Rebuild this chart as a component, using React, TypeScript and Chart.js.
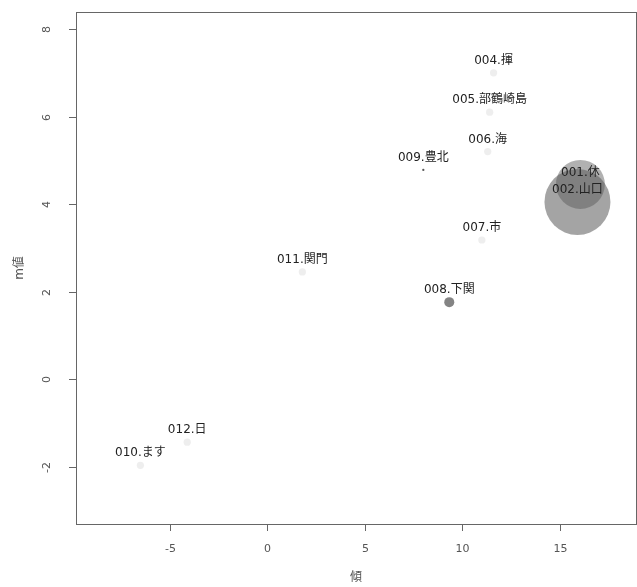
import React, { useEffect, useRef } from "react";
import { Chart, registerables } from "chart.js";

Chart.register(...registerables);

// Area labels, coordinates and weights (bubble size)
const names = [
  "001.休",
  "002.山口",
  "004.揮",
  "005.部鶴崎島",
  "006.海",
  "007.市",
  "008.下関",
  "009.豊北",
  "010.ます",
  "011.関門",
  "012.日",
];
const xValues = [16.05, 15.9, 11.6, 11.4, 11.3, 11.0, 9.33, 8.0, -6.5, 1.8, -4.1];
const yValues = [4.45, 4.05, 7.0, 6.1, 5.2, 3.18, 1.76, 4.78, -1.97, 2.45, -1.44];
const weights = [55, 100, 1.2, 1.2, 1.2, 1.2, 2.3, 0.12, 1.2, 1.2, 1.2];

const xTicks = [-5, 0, 5, 10, 15];
const yTicks = [-2, 0, 2, 4, 6, 8];
const xTitle = "傾";
const yTitle = "m値";

const pointColors = [
  "rgba(60,60,60,0.4)",
  "rgba(90,90,90,0.55)",
  "rgba(200,200,200,0.3)",
  "rgba(200,200,200,0.3)",
  "rgba(200,200,200,0.3)",
  "rgba(200,200,200,0.3)",
  "rgba(110,110,110,0.85)",
  "rgba(70,70,70,0.9)",
  "rgba(200,200,200,0.3)",
  "rgba(200,200,200,0.3)",
  "rgba(200,200,200,0.3)",
];

const FONT = "'DejaVu Sans', 'Noto Sans CJK JP', sans-serif";

const rAxesPlugin = {
  id: "rAxes",
  afterDraw(chart: any) {
    const { ctx, chartArea, scales } = chart;
    const xs = scales.x;
    const ys = scales.y;
    ctx.save();
    ctx.strokeStyle = "#666";
    ctx.lineWidth = 1;
    ctx.strokeRect(
      Math.round(chartArea.left) + 0.5,
      Math.round(chartArea.top) + 0.5,
      Math.round(chartArea.right - chartArea.left),
      Math.round(chartArea.bottom - chartArea.top)
    );
    ctx.fillStyle = "#555";
    ctx.font = "11px " + FONT;
    // x axis ticks
    ctx.textAlign = "center";
    ctx.textBaseline = "middle";
    for (const t of xTicks) {
      const px = Math.round(xs.getPixelForValue(t)) + 0.5;
      ctx.beginPath();
      ctx.moveTo(px, chartArea.bottom);
      ctx.lineTo(px, chartArea.bottom + 7);
      ctx.stroke();
      ctx.fillText(String(t), px, chartArea.bottom + 25);
    }
    // y axis ticks (rotated labels)
    for (const t of yTicks) {
      const py = Math.round(ys.getPixelForValue(t)) + 0.5;
      ctx.beginPath();
      ctx.moveTo(chartArea.left, py);
      ctx.lineTo(chartArea.left - 7, py);
      ctx.stroke();
      ctx.save();
      ctx.translate(chartArea.left - 29, py);
      ctx.rotate(-Math.PI / 2);
      ctx.fillText(String(t), 0, 0);
      ctx.restore();
    }
    // axis titles
    ctx.font = "12px " + FONT;
    ctx.fillText(xTitle, (chartArea.left + chartArea.right) / 2, chartArea.bottom + 54);
    ctx.save();
    ctx.translate(chartArea.left - 56, (chartArea.top + chartArea.bottom) / 2);
    ctx.rotate(-Math.PI / 2);
    ctx.fillText(yTitle, 0, 0);
    ctx.restore();

    // point labels
    ctx.fillStyle = "#222";
    ctx.font = "12px " + FONT;
    const meta = chart.getDatasetMeta(0);
    meta.data.forEach((el: any, i: number) => {
      ctx.fillText(names[i], el.x, el.y - 12);
    });
    ctx.restore();
  },
};

export default function App() {
  const ref = useRef<HTMLCanvasElement | null>(null);
  useEffect(() => {
    if (!ref.current) return;
    const data = names.map((_, i) => ({
      x: xValues[i],
      y: yValues[i],
      r: 3.3 * Math.sqrt(weights[i]),
    }));
    const chart = new Chart(ref.current, {
      type: "bubble",
      data: {
        datasets: [
          {
            data,
            backgroundColor: pointColors,
            borderWidth: 0,
          },
        ],
      },
      options: {
        animation: false,
        responsive: false,
        maintainAspectRatio: false,
        layout: { autoPadding: false, padding: { left: 76, top: 12, right: 1, bottom: 63 } },
        plugins: { legend: { display: false }, tooltip: { enabled: false } },
        scales: {
          x: { type: "linear", display: false, min: -9.8, max: 18.9 },
          y: { type: "linear", display: false, min: -3.31, max: 8.39 },
        },
      },
      plugins: [rAxesPlugin],
    });
    return () => chart.destroy();
  }, []);
  return (
    <div style={{ position: "absolute", left: 0, top: 0, width: 637, height: 587, background: "#fff" }}>
      <canvas ref={ref} width={637} height={587} />
    </div>
  );
}
